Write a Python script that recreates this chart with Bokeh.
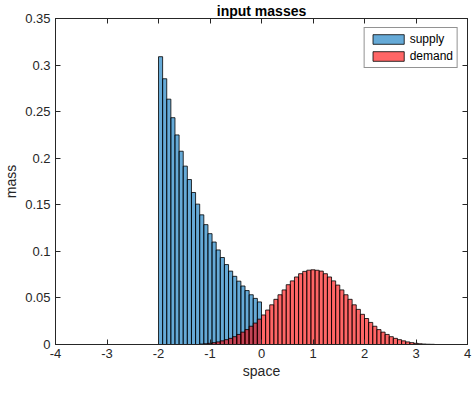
import numpy as np
from bokeh.plotting import figure
from bokeh.models import (LinearAxis, FixedTicker, CustomJSTickFormatter, Range1d,
                          Legend, LegendItem, ColumnDataSource)
from bokeh.embed import file_html
from bokeh.resources import INLINE

# ---- data ----
bin_width = 0.08
supply_start = -2.0
supply_mass = [0.309, 0.2853, 0.2634, 0.2435, 0.225, 0.2075, 0.1915, 0.1771, 0.1632,
               0.1507, 0.1392, 0.1287, 0.119, 0.110, 0.1015, 0.0934, 0.0858, 0.0788,
               0.0732, 0.068, 0.0628, 0.0579, 0.0534, 0.0495, 0.0457]
demand_start = -1.2
demand_mass = [0.0005, 0.0008, 0.0013, 0.002, 0.0028, 0.0039, 0.0052, 0.0066, 0.0084,
               0.0108, 0.0133, 0.016, 0.0196, 0.023, 0.0272, 0.0317, 0.037, 0.0426,
               0.0485, 0.0534, 0.0586, 0.0642, 0.0683, 0.0725, 0.076, 0.0785, 0.0798,
               0.0802, 0.0797, 0.0788, 0.076, 0.0725, 0.0683, 0.0638, 0.0586, 0.0534,
               0.0485, 0.0426, 0.0377, 0.0324, 0.0279, 0.0237, 0.0196, 0.016, 0.0133,
               0.0108, 0.0084, 0.0066, 0.0052, 0.0039, 0.0028, 0.002, 0.0013, 0.0008,
               0.0005, 0.0003, 0.0002]
x_ticks = [-4, -3, -2, -1, 0, 1, 2, 3, 4]
y_ticks = [0, 0.05, 0.1, 0.15, 0.2, 0.25, 0.3, 0.35]
title_text = "input masses"
x_label = "space"
y_label = "mass"
series_names = ["supply", "demand"]

FONT = "Liberation Sans"
AX = "#262626"


def bins(start, masses):
    n = len(masses)
    left = np.round(start + bin_width * np.arange(n), 4)
    return ColumnDataSource(dict(left=left, right=left + bin_width,
                                 top=masses, bottom=[0] * n))


p = figure(x_range=Range1d(-4, 4), y_range=Range1d(0, 0.35),
           frame_width=412, frame_height=326,
           output_backend="svg", toolbar_location=None, title=title_text,
           min_border_left=0, min_border_right=6, min_border_top=0, min_border_bottom=0)
p.background_fill_color = "white"
p.border_fill_color = "white"
p.outline_line_color = AX
p.outline_line_width = 1
p.xgrid.visible = False
p.ygrid.visible = False

p.title.align = "center"
p.title.text_font = FONT
p.title.text_font_size = "14px"
p.title.text_font_style = "bold"
p.title.text_color = "black"
p.title.standoff = 0
p.title.offset = 0

r1 = p.quad(left="left", right="right", top="top", bottom="bottom",
            source=bins(supply_start, supply_mass),
            fill_color=(0, 114, 189), fill_alpha=0.6,
            line_color="black", line_width=1, line_alpha=0.8)
r2 = p.quad(left="left", right="right", top="top", bottom="bottom",
            source=bins(demand_start, demand_mass),
            fill_color=(255, 0, 0), fill_alpha=0.6,
            line_color="black", line_width=1, line_alpha=0.8)


def style_axis(ax):
    ax.major_tick_in = 5
    ax.major_tick_out = 0
    ax.minor_tick_in = 0
    ax.minor_tick_out = 0
    ax.major_tick_line_color = AX
    ax.axis_line_color = AX
    ax.major_label_text_font = FONT
    ax.major_label_text_font_size = "13px"
    ax.major_label_text_color = AX
    ax.axis_label_text_font = FONT
    ax.axis_label_text_font_size = "14px"
    ax.axis_label_text_font_style = "normal"
    ax.axis_label_text_color = AX


xt = FixedTicker(ticks=x_ticks)
yt = FixedTicker(ticks=y_ticks)
yfmt = CustomJSTickFormatter(code="return Number(tick.toFixed(2)).toString();")
xfmt = CustomJSTickFormatter(code="return Number(tick.toFixed(0)).toString();")

p.xaxis.ticker = xt
p.yaxis.ticker = yt
p.xaxis.formatter = xfmt
p.yaxis.formatter = yfmt
p.xaxis.axis_label = x_label
p.yaxis.axis_label = y_label
style_axis(p.xaxis[0])
style_axis(p.yaxis[0])
p.xaxis.major_label_standoff = 4
p.xaxis.axis_label_standoff = 2
p.yaxis.major_label_standoff = 5
p.yaxis.axis_label_standoff = 3


def frame_ticks(ticker):
    ax = LinearAxis(ticker=ticker, major_label_text_alpha=0)
    style_axis(ax)
    ax.major_label_text_font_size = "0px"
    ax.major_label_standoff = 0
    ax.axis_label_standoff = 0
    return ax


p.add_layout(frame_ticks(xt), "above")
p.add_layout(frame_ticks(yt), "right")

legend = Legend(items=[LegendItem(label=series_names[0], renderers=[r1]),
                       LegendItem(label=series_names[1], renderers=[r2])],
                location="top_right")
legend.border_line_color = AX
legend.border_line_width = 1
legend.background_fill_color = "white"
legend.label_text_font = FONT
legend.label_text_font_size = "12px"
legend.label_text_color = "black"
legend.glyph_width = 39
legend.glyph_height = 12
legend.label_standoff = 2
legend.label_height = 12
legend.padding = 4
legend.spacing = 3
legend.margin = 9
p.add_layout(legend)

open("out.html", "w").write(file_html(p, INLINE))
